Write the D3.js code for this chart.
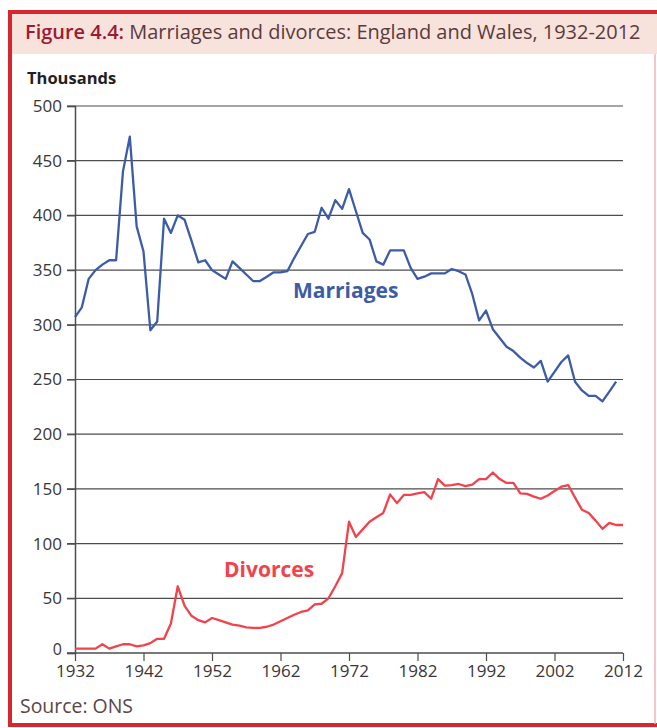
<!DOCTYPE html>
<html>
<head>
<meta charset="utf-8">
<script src="https://cdn.jsdelivr.net/npm/d3@7"></script>
<style>
  body { margin: 0; background: #fff; }
  text { font-family: "Open Sans", "Noto Sans", sans-serif; }
</style>
</head>
<body>
<div class="canvas"></div>
<script>
// marriages 1932-2011, divorces 1932-2012 (thousands)
const marriageYears = d3.range(1932, 2012);
const marriages = [
  307, 316, 342, 350, 355, 359, 359, 440, 472, 390,
  367, 295, 303, 397, 384, 400, 396, 377, 357, 359,
  350, 346, 342, 358, 352, 346, 340, 340, 344, 348,
  348, 349, 361, 372, 383, 385, 407, 397, 414, 406,
  424, 404, 384, 378, 358, 355, 368, 368, 368, 352,
  342, 344, 347, 347, 347, 351, 349, 346, 328, 304,
  313, 296, 288, 280, 276, 270, 265, 261, 267, 248,
  257, 266, 272, 248, 240, 235, 235, 230, 239, 248
];

const divorceYears = d3.range(1932, 2013);
const divorces = [
  4, 4, 4, 4, 8, 4, 6, 8, 8, 6,
  7, 9, 13, 13, 27, 61, 43, 34, 30, 28,
  32, 30, 28, 26, 25, 23.5, 23, 23, 24, 26,
  29, 32, 35, 37.5, 39, 44.5, 45, 50, 61, 73,
  120, 106, 113, 120, 124, 128, 145, 137, 144.5, 144.5,
  146, 147, 141, 159, 153, 153.5, 154.5, 152.5, 154, 159,
  159, 165, 159, 155.5, 155.5, 146, 145.5, 143, 141, 144,
  148, 152, 153.5, 142, 131, 128, 121, 113.5, 119, 117,
  117
];

const xTicks = [1932, 1942, 1952, 1962, 1972, 1982, 1992, 2002, 2012];
const yTicks = [0, 50, 100, 150, 200, 250, 300, 350, 400, 450, 500];

draw_chart();

function draw_chart(){

  const svg = d3.select('.canvas')
    .append('svg')
    .attr('width', 657)
    .attr('height', 728);

  // frame + title band
  svg.append('rect')
    .attr('x', 10).attr('y', 12)
    .attr('width', 700).attr('height', 713)
    .attr('fill', 'none')
    .attr('stroke', '#d7262e')
    .attr('stroke-width', 4);

  svg.append('rect')
    .attr('x', 12).attr('y', 14)
    .attr('width', 700).attr('height', 40)
    .attr('fill', '#f8e3dc');

  svg.append('line')
    .attr('x1', 655).attr('x2', 655)
    .attr('y1', 54).attr('y2', 724)
    .attr('stroke', '#f2b3b5')
    .attr('stroke-width', 1.5);

  const title = svg.append('text')
    .attr('x', 25)
    .attr('y', 39)
    .style('font-size', '18px')
    .attr('fill', '#5b3a3d');
  title.append('tspan').attr('fill', '#9e1a33').style('font-weight', '600').text('Figure 4.4:');
  title.append('tspan').text(' Marriages and divorces: England and Wales, 1932-2012');
  fitWidth(title, 616, 18);

  svg.append('text')
    .attr('x', 27)
    .attr('y', 84)
    .style('font-size', '16.5px')
    .style('font-weight', 'bold')
    .attr('fill', '#231f20')
    .text('Thousands');

  const x = d3.scaleLinear().domain([1932, 2012]).range([75, 623]);
  const y = d3.scaleLinear().domain([0, 500]).range([653, 106]);

  // horizontal grid (extends left of axis as tick marks)
  svg.append('g')
    .selectAll('line')
    .data(yTicks.filter(d => d > 0))
    .enter()
    .append('line')
    .attr('x1', 67).attr('x2', 623)
    .attr('y1', d => y(d)).attr('y2', d => y(d))
    .attr('stroke', '#4d4d4f')
    .attr('stroke-width', 1.2);

  // y axis
  const yAxis = svg.append('g')
    .attr('transform', 'translate(75,0)')
    .call(d3.axisLeft(y).tickValues(yTicks).tickSize(8).tickPadding(5));
  yAxis.select('.domain').attr('stroke', '#4d4d4f').attr('stroke-width', 1.5);
  yAxis.selectAll('line').attr('stroke', '#4d4d4f').attr('stroke-width', 1.2);
  yAxis.selectAll('text')
    .style('font-size', '17px')
    .style('font-family', '"Open Sans", sans-serif')
    .attr('fill', '#3a3536');
  // keep the 0 clear of the first year label
  yAxis.selectAll('.tick').filter(d => d === 0).select('text')
    .attr('dy', '0.12em')
    .style('font-size', '16px');

  // x axis
  const xAxis = svg.append('g')
    .attr('transform', 'translate(0,653)')
    .call(d3.axisBottom(x).tickValues(xTicks).tickFormat(d3.format('d')).tickSize(8).tickPadding(4));
  xAxis.select('.domain').attr('stroke', '#4d4d4f').attr('stroke-width', 1.5)
    .attr('d', 'M67,0H623');
  xAxis.selectAll('line').attr('stroke', '#4d4d4f').attr('stroke-width', 1.2);
  xAxis.selectAll('text')
    .style('font-size', '17px')
    .style('font-family', '"Open Sans", sans-serif')
    .attr('fill', '#3a3536');

  const line = d3.line()
    .x(d => x(d[0]))
    .y(d => y(d[1]));

  svg.append('path')
    .datum(marriageYears.map((yr, i) => [yr, marriages[i]]))
    .attr('d', line)
    .attr('fill', 'none')
    .attr('stroke', '#3d5ca8')
    .attr('stroke-width', 2.3)
    .attr('stroke-linejoin', 'round');

  svg.append('path')
    .datum(divorceYears.map((yr, i) => [yr, divorces[i]]))
    .attr('d', line)
    .attr('fill', 'none')
    .attr('stroke', '#f0434c')
    .attr('stroke-width', 2.3)
    .attr('stroke-linejoin', 'round');

  // series labels
  svg.append('text')
    .attr('x', 293).attr('y', 298)
    .style('font-size', '21px')
    .style('font-weight', 'bold')
    .attr('fill', '#3d5ca8')
    .text('Marriages');

  svg.append('text')
    .attr('x', 224).attr('y', 577)
    .style('font-size', '21px')
    .style('font-weight', 'bold')
    .attr('fill', '#f0434c')
    .text('Divorces');

  const src = svg.append('text')
    .attr('x', 20).attr('y', 713)
    .style('font-size', '18px')
    .attr('fill', '#5b4546')
    .text('Source: ONS');
  fitWidth(src, 113, 18);
}

// shrink/grow font so the text spans the width seen in the figure
function fitWidth(sel, target, base){
  const w = sel.node().getComputedTextLength();
  if (w > 0) sel.style('font-size', (base * target / w).toFixed(2) + 'px');
}
</script>
</body>
</html>
